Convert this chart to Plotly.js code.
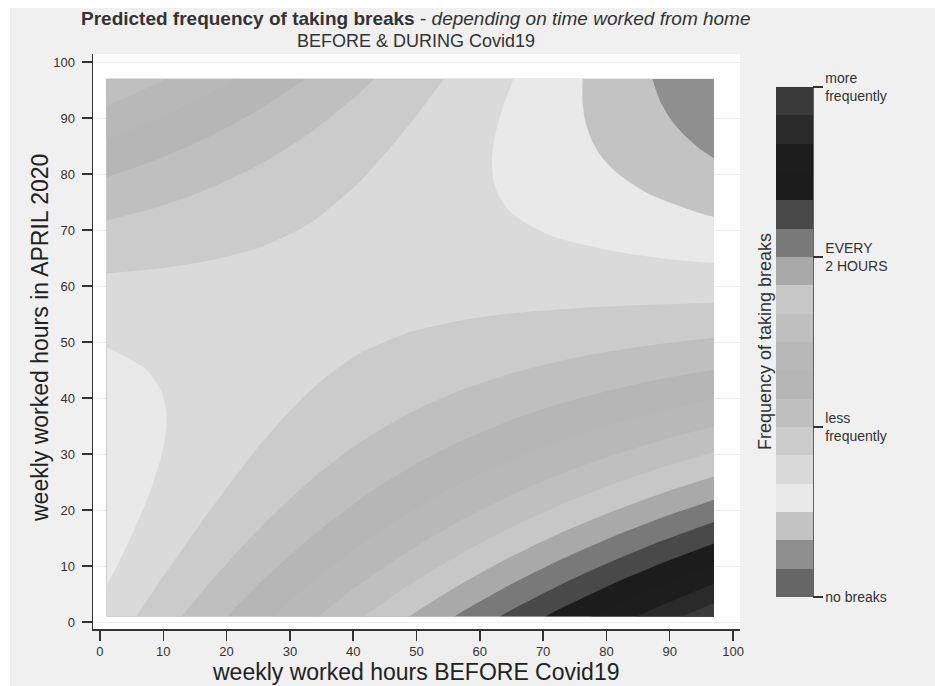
<!DOCTYPE html>
<html>
<head>
<meta charset="utf-8">
<script src="https://cdn.plot.ly/plotly-3.0.1.min.js"></script>
<style>
html, body { margin: 0; padding: 0; background: #ffffff; }
#chart { position: absolute; left: 10px; top: 8px; width: 925px; height: 678px; }
</style>
</head>
<body>
<div id="chart"></div>
<script>
// weekly worked hours BEFORE Covid19 (x) and in APRIL 2020 (y)
const hoursBefore = [1, 9, 17, 25, 33, 41, 49, 57, 65, 73, 81, 89, 97];
const hoursApril  = [1, 5, 9, 13, 17, 21, 25, 29, 33, 37, 41, 45, 49, 53, 57, 61, 65, 69, 73, 77, 81, 85, 89, 93, 97];

// predicted frequency of taking breaks (0 = no breaks ... 18 = more frequently), one row per hoursApril value
const freqAt1  = [4.344, 5.458, 6.571, 7.685, 8.798, 9.912, 11.026, 12.139, 13.253, 14.366, 15.480, 16.594, 17.707];
const freqAt5  = [4.077, 5.114, 6.151, 7.187, 8.224, 9.261, 10.298, 11.335, 12.372, 13.408, 14.445, 15.482, 16.519];
const freqAt9  = [3.854, 4.814, 5.774, 6.734, 7.694, 8.654, 9.614, 10.574, 11.534, 12.494, 13.454, 14.414, 15.374];
const freqAt13 = [3.673, 4.556, 5.440, 6.323, 7.206, 8.089, 8.972, 9.856, 10.739, 11.622, 12.505, 13.389, 14.272];
const freqAt17 = [3.536, 4.342, 5.149, 5.955, 6.762, 7.568, 8.374, 9.181, 9.987, 10.794, 11.600, 12.406, 13.213];
const freqAt21 = [3.442, 4.172, 4.901, 5.631, 6.360, 7.090, 7.820, 8.549, 9.279, 10.008, 10.738, 11.468, 12.197];
const freqAt25 = [3.392, 4.045, 4.698, 5.350, 6.003, 6.656, 7.309, 7.962, 8.614, 9.267, 9.920, 10.573, 11.226];
const freqAt29 = [3.384, 3.960, 4.536, 5.112, 5.688, 6.264, 6.840, 7.416, 7.992, 8.568, 9.144, 9.720, 10.296];
const freqAt33 = [3.420, 3.919, 4.418, 4.918, 5.417, 5.916, 6.415, 6.914, 7.414, 7.913, 8.412, 8.911, 9.410];
const freqAt37 = [3.499, 3.921, 4.344, 4.766, 5.189, 5.611, 6.033, 6.456, 6.878, 7.301, 7.723, 8.146, 8.568];
const freqAt41 = [3.621, 3.967, 4.312, 4.658, 5.003, 5.349, 5.695, 6.040, 6.386, 6.731, 7.077, 7.423, 7.768];
const freqAt45 = [3.786, 4.055, 4.324, 4.592, 4.861, 5.130, 5.399, 5.668, 5.936, 6.205, 6.474, 6.743, 7.012];
const freqAt49 = [3.994, 4.186, 4.378, 4.570, 4.762, 4.954, 5.146, 5.338, 5.530, 5.722, 5.914, 6.106, 6.298];
const freqAt53 = [4.246, 4.361, 4.476, 4.592, 4.707, 4.822, 4.937, 5.052, 5.168, 5.283, 5.398, 5.513, 5.628];
const freqAt57 = [4.541, 4.579, 4.618, 4.656, 4.695, 4.733, 4.771, 4.810, 4.848, 4.887, 4.925, 4.963, 5.002];
const freqAt61 = [4.879, 4.841, 4.802, 4.764, 4.725, 4.687, 4.649, 4.610, 4.572, 4.533, 4.495, 4.457, 4.418];
const freqAt65 = [5.260, 5.145, 5.030, 4.914, 4.799, 4.684, 4.569, 4.454, 4.338, 4.223, 4.108, 3.993, 3.878];
const freqAt69 = [5.684, 5.492, 5.300, 5.108, 4.916, 4.724, 4.532, 4.340, 4.148, 3.956, 3.764, 3.572, 3.380];
const freqAt73 = [6.152, 5.883, 5.614, 5.346, 5.077, 4.808, 4.539, 4.270, 4.002, 3.733, 3.464, 3.195, 2.926];
const freqAt77 = [6.663, 6.317, 5.972, 5.626, 5.281, 4.935, 4.589, 4.244, 3.898, 3.553, 3.207, 2.862, 2.516];
const freqAt81 = [7.217, 6.795, 6.372, 5.950, 5.527, 5.105, 4.683, 4.260, 3.838, 3.415, 2.993, 2.571, 2.148];
const freqAt85 = [7.814, 7.315, 6.816, 6.316, 5.817, 5.318, 4.819, 4.320, 3.820, 3.321, 2.822, 2.323, 1.824];
const freqAt89 = [8.455, 7.879, 7.303, 6.727, 6.151, 5.575, 4.999, 4.423, 3.847, 3.271, 2.695, 2.119, 1.543];
const freqAt93 = [9.138, 8.485, 7.832, 7.180, 6.527, 5.874, 5.221, 4.568, 3.916, 3.263, 2.610, 1.957, 1.305];
const freqAt97 = [9.865, 9.135, 8.406, 7.676, 6.947, 6.217, 5.487, 4.758, 4.028, 3.298, 2.569, 1.839, 1.110];

// fill colour of each of the 18 bands, from "no breaks" (bottom) to "more frequently" (top)
const bandColors = ['#666666', '#8f8f8f', '#c3c3c3', '#e9e9e9', '#dadada', '#cbcbcb',
                    '#bfbfbf', '#b6b6b6', '#b8b8b8', '#bfbfbf', '#c7c7c7', '#a9a9a9',
                    '#797979', '#494949', '#1c1c1c', '#1d1d1d', '#2a2a2a', '#3a3a3a'];

const freqTickVals = [0.0001, 6, 12, 17.9999];
const freqTickText = ['no breaks', 'less<br>frequently', 'EVERY<br>2 HOURS', 'more<br>frequently'];
const axisTicks = [0, 10, 20, 30, 40, 50, 60, 70, 80, 90, 100];

const zGrid = [freqAt1, freqAt5, freqAt9, freqAt13, freqAt17, freqAt21, freqAt25, freqAt29,
               freqAt33, freqAt37, freqAt41, freqAt45, freqAt49, freqAt53, freqAt57, freqAt61,
               freqAt65, freqAt69, freqAt73, freqAt77, freqAt81, freqAt85, freqAt89, freqAt93, freqAt97];

const nb = bandColors.length;
const colorscale = bandColors.map((c, k) => [k / (nb - 1), c]);

// pixel helpers (page coordinates -> paper fractions)
const PL = 93, PR = 740, PT = 54, PB = 629;
const px = v => (v - PL) / (PR - PL);
const py = v => (PB - v) / (PB - PT);

const FONT = 'Liberation Sans, Arial, Helvetica, sans-serif';
const INK = '#333333';

const trace = {
  type: 'contour',
  x: hoursBefore,
  y: hoursApril,
  z: zGrid,
  zmin: 0,
  zmax: 18,
  autocontour: false,
  contours: { start: 1, end: 17, size: 1, coloring: 'fill', showlines: false },
  line: { width: 0, smoothing: 1 },
  colorscale: colorscale,
  hoverinfo: 'skip',
  colorbar: {
    x: px(776), xanchor: 'left', xref: 'paper', xpad: 0,
    y: py(342), yanchor: 'middle', ypad: 0,
    thickness: 37, thicknessmode: 'pixels',
    len: 510, lenmode: 'pixels',
    outlinewidth: 0,
    tickmode: 'array', tickvals: freqTickVals, ticktext: freqTickText,
    ticks: 'outside', ticklen: 10, tickwidth: 1.5, tickcolor: INK,
    tickfont: { family: FONT, size: 14, color: INK },
    title: { text: '' }
  }
};

const layout = {
  width: 925, height: 678,
  margin: { l: 83, r: 195, t: 46, b: 57, pad: 0 },
  paper_bgcolor: '#f0f0f0',
  plot_bgcolor: '#ffffff',
  showlegend: false,
  font: { family: FONT, color: INK },
  xaxis: {
    range: [-1.1, 101.1],
    tickmode: 'array', tickvals: axisTicks,
    showgrid: false, zeroline: false,
    showline: true, linecolor: INK, linewidth: 1.5,
    ticks: 'outside', ticklen: 10, tickwidth: 1.5, tickcolor: INK,
    tickfont: { family: FONT, size: 13, color: INK },
    fixedrange: true
  },
  yaxis: {
    range: [-1.25, 101.43],
    tickmode: 'array', tickvals: axisTicks,
    showgrid: true, gridcolor: '#ececec', gridwidth: 1,
    zeroline: false,
    showline: true, linecolor: INK, linewidth: 1.5,
    ticks: 'outside', ticklen: 10, tickwidth: 1.5, tickcolor: INK,
    ticklabelstandoff: 4,
    tickfont: { family: FONT, size: 13, color: INK },
    fixedrange: true
  },
  shapes: [
    { type: 'line', xref: 'paper', yref: 'paper', x0: px(813), x1: px(813), y0: py(597), y1: py(87),
      line: { color: INK, width: 1.5 } }
  ],
  annotations: [
    { xref: 'paper', yref: 'paper', x: px(416), y: py(19), xanchor: 'center', yanchor: 'middle',
      showarrow: false,
      text: '<b>Predicted frequency of taking breaks</b> - <i>depending on time worked from home</i>',
      font: { family: FONT, size: 19, color: INK } },
    { xref: 'paper', yref: 'paper', x: px(416), y: py(41), xanchor: 'center', yanchor: 'middle',
      showarrow: false, text: 'BEFORE &amp; DURING Covid19',
      font: { family: FONT, size: 18, color: INK } },
    { xref: 'paper', yref: 'paper', x: px(416), y: py(672), xanchor: 'center', yanchor: 'middle',
      showarrow: false, text: 'weekly worked hours BEFORE Covid19',
      font: { family: FONT, size: 23, color: '#222222' } },
    { xref: 'paper', yref: 'paper', x: px(40), y: py(338), xanchor: 'center', yanchor: 'middle',
      showarrow: false, textangle: -90, text: 'weekly worked hours in APRIL 2020',
      font: { family: FONT, size: 23, color: '#222222' } },
    { xref: 'paper', yref: 'paper', x: px(765), y: py(342), xanchor: 'center', yanchor: 'middle',
      showarrow: false, textangle: -90, text: 'Frequency of taking breaks',
      font: { family: FONT, size: 18, color: INK } }
  ]
};

Plotly.newPlot('chart', [trace], layout, { displayModeBar: false, staticPlot: true });
</script>
</body>
</html>
